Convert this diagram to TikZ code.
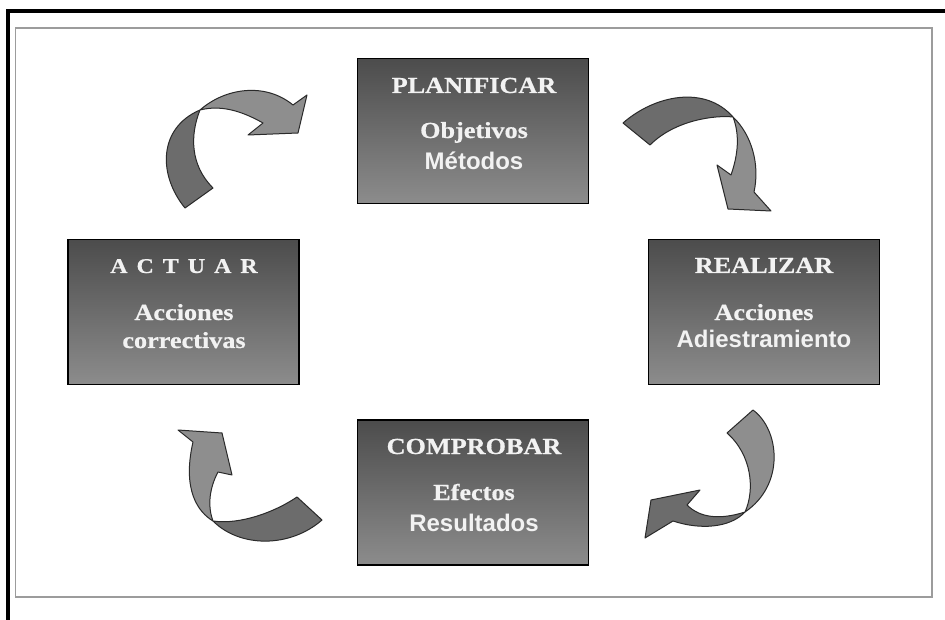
\documentclass[tikz,border=0pt]{standalone}
\usepackage{fontspec}
\newfontfamily\boxserif{Liberation Serif}[FakeStretch=1.14, FakeBold=0.6]
\newfontfamily\boxsans{Liberation Sans}
\definecolor{boxtop}{HTML}{4C4C4C}
\definecolor{boxbot}{HTML}{8C8C8C}
\definecolor{arrlight}{HTML}{8E8E8E}
\definecolor{arrdark}{HTML}{6C6C6C}
\definecolor{arredge}{HTML}{2A2A2A}
\definecolor{framegray}{HTML}{9C9C9C}
\definecolor{txtwhite}{HTML}{F2F2F2}
\begin{document}
\begin{tikzpicture}[x=1pt,y=-1pt,
  stagebox/.style={draw=black, line width=1.4pt, top color=boxtop, bottom color=boxbot,
    minimum width=231pt, minimum height=145pt, inner sep=0pt},
  titletext/.style={anchor=base, text=txtwhite, font=\boxserif\bfseries\fontsize{23}{25}\selectfont, inner sep=0pt},
  serifline/.style={anchor=base, text=txtwhite, font=\boxserif\bfseries\fontsize{23}{25}\selectfont, inner sep=0pt},
  sansline/.style={anchor=base, text=txtwhite, font=\boxsans\bfseries\fontsize{24}{26}\selectfont, inner sep=0pt},
  ribbonlight/.style={fill=arrlight, draw=arredge, line width=1pt, line join=round},
  ribbondark/.style={fill=arrdark, draw=arredge, line width=1pt, line join=round}
]
\useasboundingbox (0,0) rectangle (945,620);
\fill[white] (0,0) rectangle (945,620);

% outer black frame (top and left)
\draw[black, line width=4pt] (8,620) -- (8,11) -- (945,11);
% inner grey frame
\draw[framegray, line width=1.6pt] (15.5,28) rectangle (932,597);

% stage boxes
\node[stagebox] (plan) at (473,131) {};
\node[stagebox] (real) at (764,312) {};
\node[stagebox] (comp) at (473,492.5) {};
\node[stagebox] (actu) at (183.5,312) {};

% box texts
\node[titletext] (plan-t) at (474,93) {PLANIFICAR};
\node[serifline] (plan-a) at (474,138) {Objetivos};
\node[sansline]  (plan-b) at (474,170) {Métodos};

\node[titletext] (real-t) at (764,273) {REALIZAR};
\node[serifline] (real-a) at (764,320) {Acciones};
\node[sansline]  (real-b) at (764,348) {Adiestramiento};

\node[titletext] (comp-t) at (474,454) {COMPROBAR};
\node[serifline] (comp-a) at (474,500) {Efectos};
\node[sansline]  (comp-b) at (474,531) {Resultados};

\node[titletext, font=\boxserif\bfseries\fontsize{21}{23}\selectfont] (actu-t) at (184,273)
  {A\kern9pt C\kern9pt T\kern9pt U\kern9pt A\kern9pt R};
\node[serifline] (actu-a) at (184,320) {Acciones};
\node[serifline] (actu-b) at (184,348) {correctivas};

% curved ribbon arrows
% upper left: ACTUAR -> PLANIFICAR
\path[ribbondark] (185,208) .. controls (158,175) and (158,128) .. (200,110)
  .. controls (190,135) and (190,165) .. (213,188) -- cycle;
\path[ribbonlight] (200,110) .. controls (225,88) and (265,82) .. (293,105)
  -- (307,95) -- (298,133) -- (248,135) -- (263,123)
  .. controls (240,110) and (220,105) .. (200,110) -- cycle;

% upper right: PLANIFICAR -> REALIZAR
\path[ribbondark] (623,123) .. controls (655,95) and (705,85) .. (733,117)
  .. controls (715,115) and (675,120) .. (650,145) -- cycle;
\path[ribbonlight] (733,117) .. controls (752,135) and (760,165) .. (754,192)
  -- (771,211) -- (728,209) -- (717,165) -- (731,175)
  .. controls (738,155) and (740,135) .. (733,117) -- cycle;

% lower right: REALIZAR -> COMPROBAR
\path[ribbonlight] (753,410) .. controls (780,430) and (785,485) .. (745,512)
  .. controls (755,490) and (752,455) .. (727,433) -- cycle;
\path[ribbondark] (745,512) .. controls (720,520) and (700,518) .. (687,505)
  -- (700,490) -- (651,500) -- (645,538) -- (673,521)
  .. controls (700,530) and (730,528) .. (745,512) -- cycle;

% lower left: COMPROBAR -> ACTUAR
\path[ribbonlight] (213,521) .. controls (198,512) and (182,490) .. (193,442)
  -- (178,430) -- (222,433) -- (232,475) -- (218,472)
  .. controls (210,487) and (207,505) .. (213,521) -- cycle;
\path[ribbondark] (213,521) .. controls (240,525) and (275,512) .. (297,497)
  -- (322,520) .. controls (290,548) and (240,548) .. (213,521) -- cycle;
\end{tikzpicture}
\end{document}
